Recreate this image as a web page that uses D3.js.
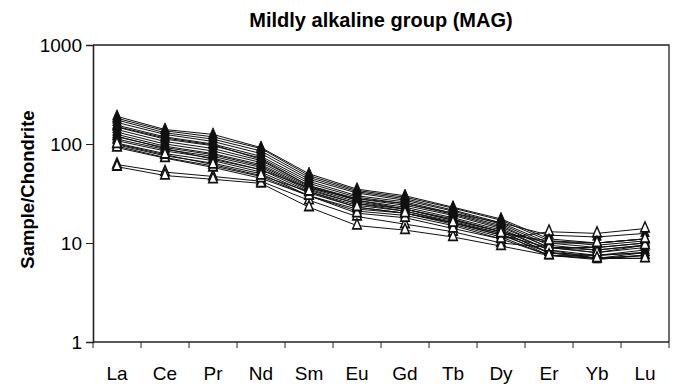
<!DOCTYPE html>
<html>
<head>
<meta charset="utf-8">
<script src="https://cdn.jsdelivr.net/npm/d3@7"></script>
<style>
    body { margin: 0; background: #fff; }
    svg text { font-family: "Liberation Sans", Arial, sans-serif; fill: #000; }
</style>
</head>
<body>
<div id="chart"></div>
<script>
// REE elements, chondrite normalised
const elements = ["La", "Ce", "Pr", "Nd", "Sm", "Eu", "Gd", "Tb", "Dy", "Er", "Yb", "Lu"];

const y_ticks = [1, 10, 100, 1000];

// samples drawn with filled triangles
const filled_samples = [
    [190, 140, 125, 92, 50, 35, 30, 23, 17.5, 11, 10, 11],
    [182, 136, 118, 90, 48, 34, 29, 22.5, 17, 10.5, 9.5, 10.5],
    [175, 130, 112, 85, 46, 33, 28, 21.5, 16, 10, 9, 10],
    [165, 125, 106, 80, 44, 32, 27, 21, 15.5, 9.5, 8.5, 9.5],
    [155, 118, 100, 75, 42, 30, 26, 20, 15, 9, 8, 9],
    [148, 112, 96, 72, 40, 29, 25, 19.5, 14.5, 9, 8.5, 9.5],
    [140, 106, 90, 68, 38, 28, 24, 19, 14, 8.5, 7.5, 8.5],
    [132, 100, 85, 65, 37, 27, 23, 18, 13.5, 8.5, 7, 8],
    [125, 95, 80, 62, 36, 26, 22, 17.5, 13, 8, 7.5, 8],
    [118, 92, 78, 60, 35, 25, 22, 17, 13, 8, 7, 7.5],
    [112, 88, 75, 58, 34, 25, 21, 16.5, 12.5, 7.5, 6.8, 7.5],
    [108, 85, 72, 55, 33, 24, 21, 16, 12, 9, 9, 10],
    [102, 80, 68, 52, 32, 23, 20, 16, 12, 8, 7, 7.5],
    [98, 76, 64, 50, 30, 22, 20, 15.5, 11.5, 7.5, 7, 7],
    [95, 73, 60, 47, 30, 21, 19, 15, 11, 7.5, 7.5, 8],
    [150, 115, 98, 70, 38, 27, 22, 17, 13, 10, 10, 11],
    [120, 90, 70, 55, 36, 28, 25, 20, 16, 12, 11.5, 12.5]
];

// samples drawn with open triangles
const open_samples = [
    [62, 52, 47, 42, 27, 18.5, 15.5, 13, 10, 9, 8, 9.5],
    [59, 48, 44, 40, 23, 15, 13.5, 11.5, 9.3, 7.5, 7, 7],
    [92, 72, 58, 45, 30, 20, 18, 14, 11, 13, 12.5, 14],
    [100, 78, 62, 48, 33, 23, 20, 16, 12.5, 10.5, 10, 11]
];

const margin = {top: 45, right: 8, bottom: 43, left: 93};
const full_width = 677;
const full_height = 385;
const width = full_width - margin.left - margin.right;
const height = full_height - margin.top - margin.bottom;

const svg = d3.select("#chart")
    .append("svg")
    .attr("width", full_width)
    .attr("height", full_height);

const g = svg.append("g")
    .attr("transform", "translate(" + margin.left + "," + margin.top + ")");

const x_scale = d3.scaleBand()
    .domain(elements)
    .range([0, width]);

const y_scale = d3.scaleLog()
    .domain([1, 1000])
    .range([height, 0]);

// frame (top + right)
g.append("path")
    .attr("d", "M0,0H" + width + "V" + height)
    .attr("fill", "none")
    .attr("stroke", "#222")
    .attr("stroke-width", 1.3);

// x axis, ticks on band edges
const x_axis = g.append("g")
    .attr("transform", "translate(0," + height + ")");
x_axis.append("line")
    .attr("x1", 0).attr("x2", width)
    .attr("stroke", "#222").attr("stroke-width", 1.3);
x_axis.selectAll(".edge")
    .data(d3.range(elements.length + 1))
    .enter()
    .append("line")
    .attr("class", "edge")
    .attr("x1", i => i * x_scale.bandwidth())
    .attr("x2", i => i * x_scale.bandwidth())
    .attr("y1", 0).attr("y2", 6)
    .attr("stroke", "#222");
x_axis.selectAll(".lab")
    .data(elements)
    .enter()
    .append("text")
    .attr("class", "lab")
    .attr("x", d => x_scale(d) + x_scale.bandwidth() / 2)
    .attr("y", 38)
    .attr("text-anchor", "middle")
    .style("font-size", "19px")
    .text(d => d);

// y axis
const y_axis = g.append("g")
    .call(d3.axisLeft(y_scale)
        .tickValues(y_ticks)
        .tickFormat(d3.format("d"))
        .tickSizeOuter(0)
        .tickSize(7)
        .tickPadding(4))
    .call(a => a.select(".domain").attr("stroke", "#222").attr("stroke-width", 1.6))
    .call(a => a.selectAll(".tick line").attr("stroke", "#222"))
    .call(a => a.selectAll(".tick text")
        .style("font-size", "19px")
        .attr("font-family", null));

svg.append("text")
    .attr("transform", "translate(34," + (margin.top + height / 2 - 4) + ") rotate(-90)")
    .attr("text-anchor", "middle")
    .style("font-size", "18.5px")
    .style("font-weight", "bold")
    .text("Sample/Chondrite");

svg.append("text")
    .attr("x", margin.left + width / 2)
    .attr("y", 27)
    .attr("text-anchor", "middle")
    .style("font-size", "20px")
    .style("font-weight", "bold")
    .text("Mildly alkaline group (MAG)");

// data lines and markers
const line = d3.line()
    .x((d, i) => x_scale(elements[i]) + x_scale.bandwidth() / 2)
    .y(d => y_scale(d));

const triangle = d3.symbol().type(d3.symbolTriangle).size(40);

function drawSamples(samples, open) {
    const grp = g.append("g");
    samples.forEach(function (s) {
        grp.append("path")
            .attr("d", line(s))
            .attr("fill", "none")
            .attr("stroke", "#111")
            .attr("stroke-width", 1);
    });
    samples.forEach(function (s) {
        grp.selectAll(null)
            .data(s)
            .enter()
            .append("path")
            .attr("d", triangle)
            .attr("transform", (d, i) => "translate(" + (x_scale(elements[i]) + x_scale.bandwidth() / 2) + "," + y_scale(d) + ") scale(0.9,1.2)")
            .attr("fill", open ? "#fff" : "#111")
            .attr("stroke", "#111")
            .attr("stroke-width", open ? 1.5 : 0.8);
    });
}

drawSamples(filled_samples, false);
drawSamples(open_samples, true);
</script>
</body>
</html>
